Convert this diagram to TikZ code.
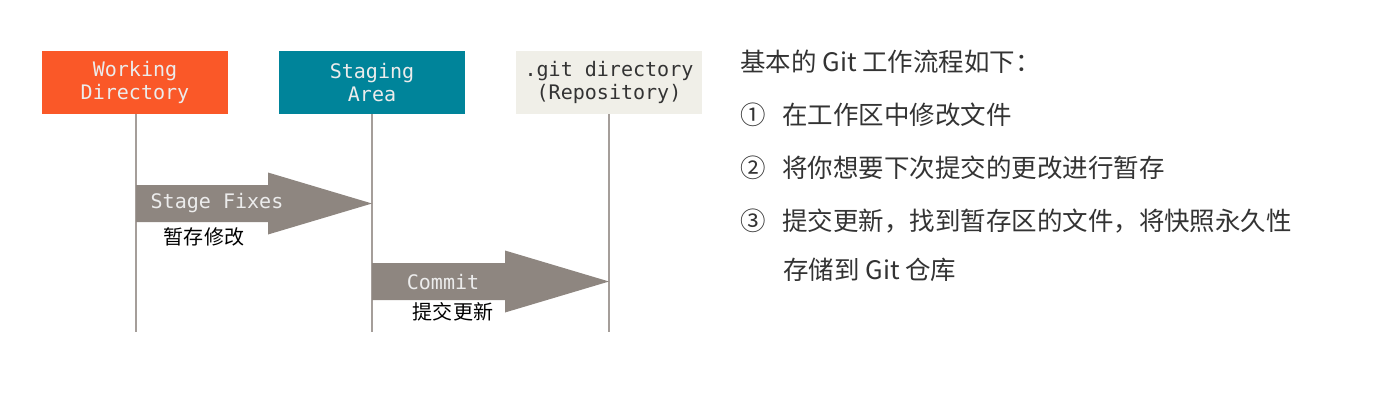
\documentclass[tikz,border=0pt]{standalone}
\usepackage{fontspec}
\setmonofont{DejaVu Sans Mono}
\newfontfamily\cjk{Noto Sans CJK SC}
\usetikzlibrary{calc,positioning}

\definecolor{wdorange}{RGB}{250,88,40}
\definecolor{stteal}{RGB}{0,132,154}
\definecolor{gitbeige}{RGB}{240,239,232}
\definecolor{arrowgray}{RGB}{142,134,128}
\definecolor{linegray}{RGB}{165,158,154}
\definecolor{boxtext}{RGB}{236,236,236}
\definecolor{notetext}{RGB}{51,51,51}

\tikzset{
  area/.style={minimum width=3.72cm, minimum height=1.26cm, inner sep=0pt,
    align=center, font=\ttfamily\fontsize{11.4}{13.6}\selectfont},
  lifeline/.style={draw=linegray, line width=0.8pt},
  bigarrow/.style={fill=arrowgray},
  arrowlabel/.style={font=\ttfamily\fontsize{11.4}{13}\selectfont, text=boxtext},
  cnlabel/.style={font=\cjk\fontsize{11.4}{13}\selectfont, text=black},
  note/.style={anchor=west, inner sep=0pt, font=\cjk\fontsize{14.5}{17}\selectfont, text=notetext}
}

\begin{document}
\begin{tikzpicture}[x=0.02cm, y=-0.02cm]
\useasboundingbox (0,0) rectangle (1379,410);

% the three areas
\node[area, fill=wdorange, text=boxtext] (wd) at (135,82.5) {Working\\Directory};
\node[area, fill=stteal, text=boxtext] (st) at (372,82.5) {Staging\\Area};
\node[area, fill=gitbeige, text=notetext] (repo) at (609,82.5) {.git directory\\(Repository)};

\coordinate (wdb) at (136,332);
\coordinate (stb) at (372,332);
\coordinate (repob) at (609,332);

\draw[lifeline] (wd.south -| wdb) -- (wdb);
\draw[lifeline] (st.south -| stb) -- (stb);
\draw[lifeline] (repo.south -| repob) -- (repob);

% stage fixes
\coordinate (s1) at (136,203.5);
\coordinate (t1) at (372,203.5);
\fill[bigarrow] ($(s1)+(0,-18.5)$) -- ++(132,0) -- ++(0,-12.5) -- (t1)
  -- ($(s1)+(132,31)$) -- ++(0,-12.5) -- ($(s1)+(0,18.5)$) -- cycle;
\node[arrowlabel] (stagefix) at (217,203.5) {Stage Fixes};
\node[cnlabel] (stagecn) at (204,237) {暂存修改};

% commit
\coordinate (s2) at (372,281.5);
\coordinate (t2) at (609,281.5);
\fill[bigarrow] ($(s2)+(0,-18.5)$) -- ++(133,0) -- ++(0,-12.5) -- (t2)
  -- ($(s2)+(133,31)$) -- ++(0,-12.5) -- ($(s2)+(0,18.5)$) -- cycle;
\node[arrowlabel] (commit) at (443,282) {Commit};
\node[cnlabel] (commitcn) at (453,312) {提交更新};

% notes on the right
\node[note] (n0) at (740,62) {基本的 Git 工作流程如下：};
\node[note] (n1) at (740,115) {①\hspace{0.65em}在工作区中修改文件};
\node[note] (n2) at (740,168) {②\hspace{0.65em}将你想要下次提交的更改进行暂存};
\node[note] (n3) at (740,221) {③\hspace{0.65em}提交更新，找到暂存区的文件，将快照永久性};
\node[note] (n4) at (783,270) {存储到 Git 仓库};
\end{tikzpicture}
\end{document}
